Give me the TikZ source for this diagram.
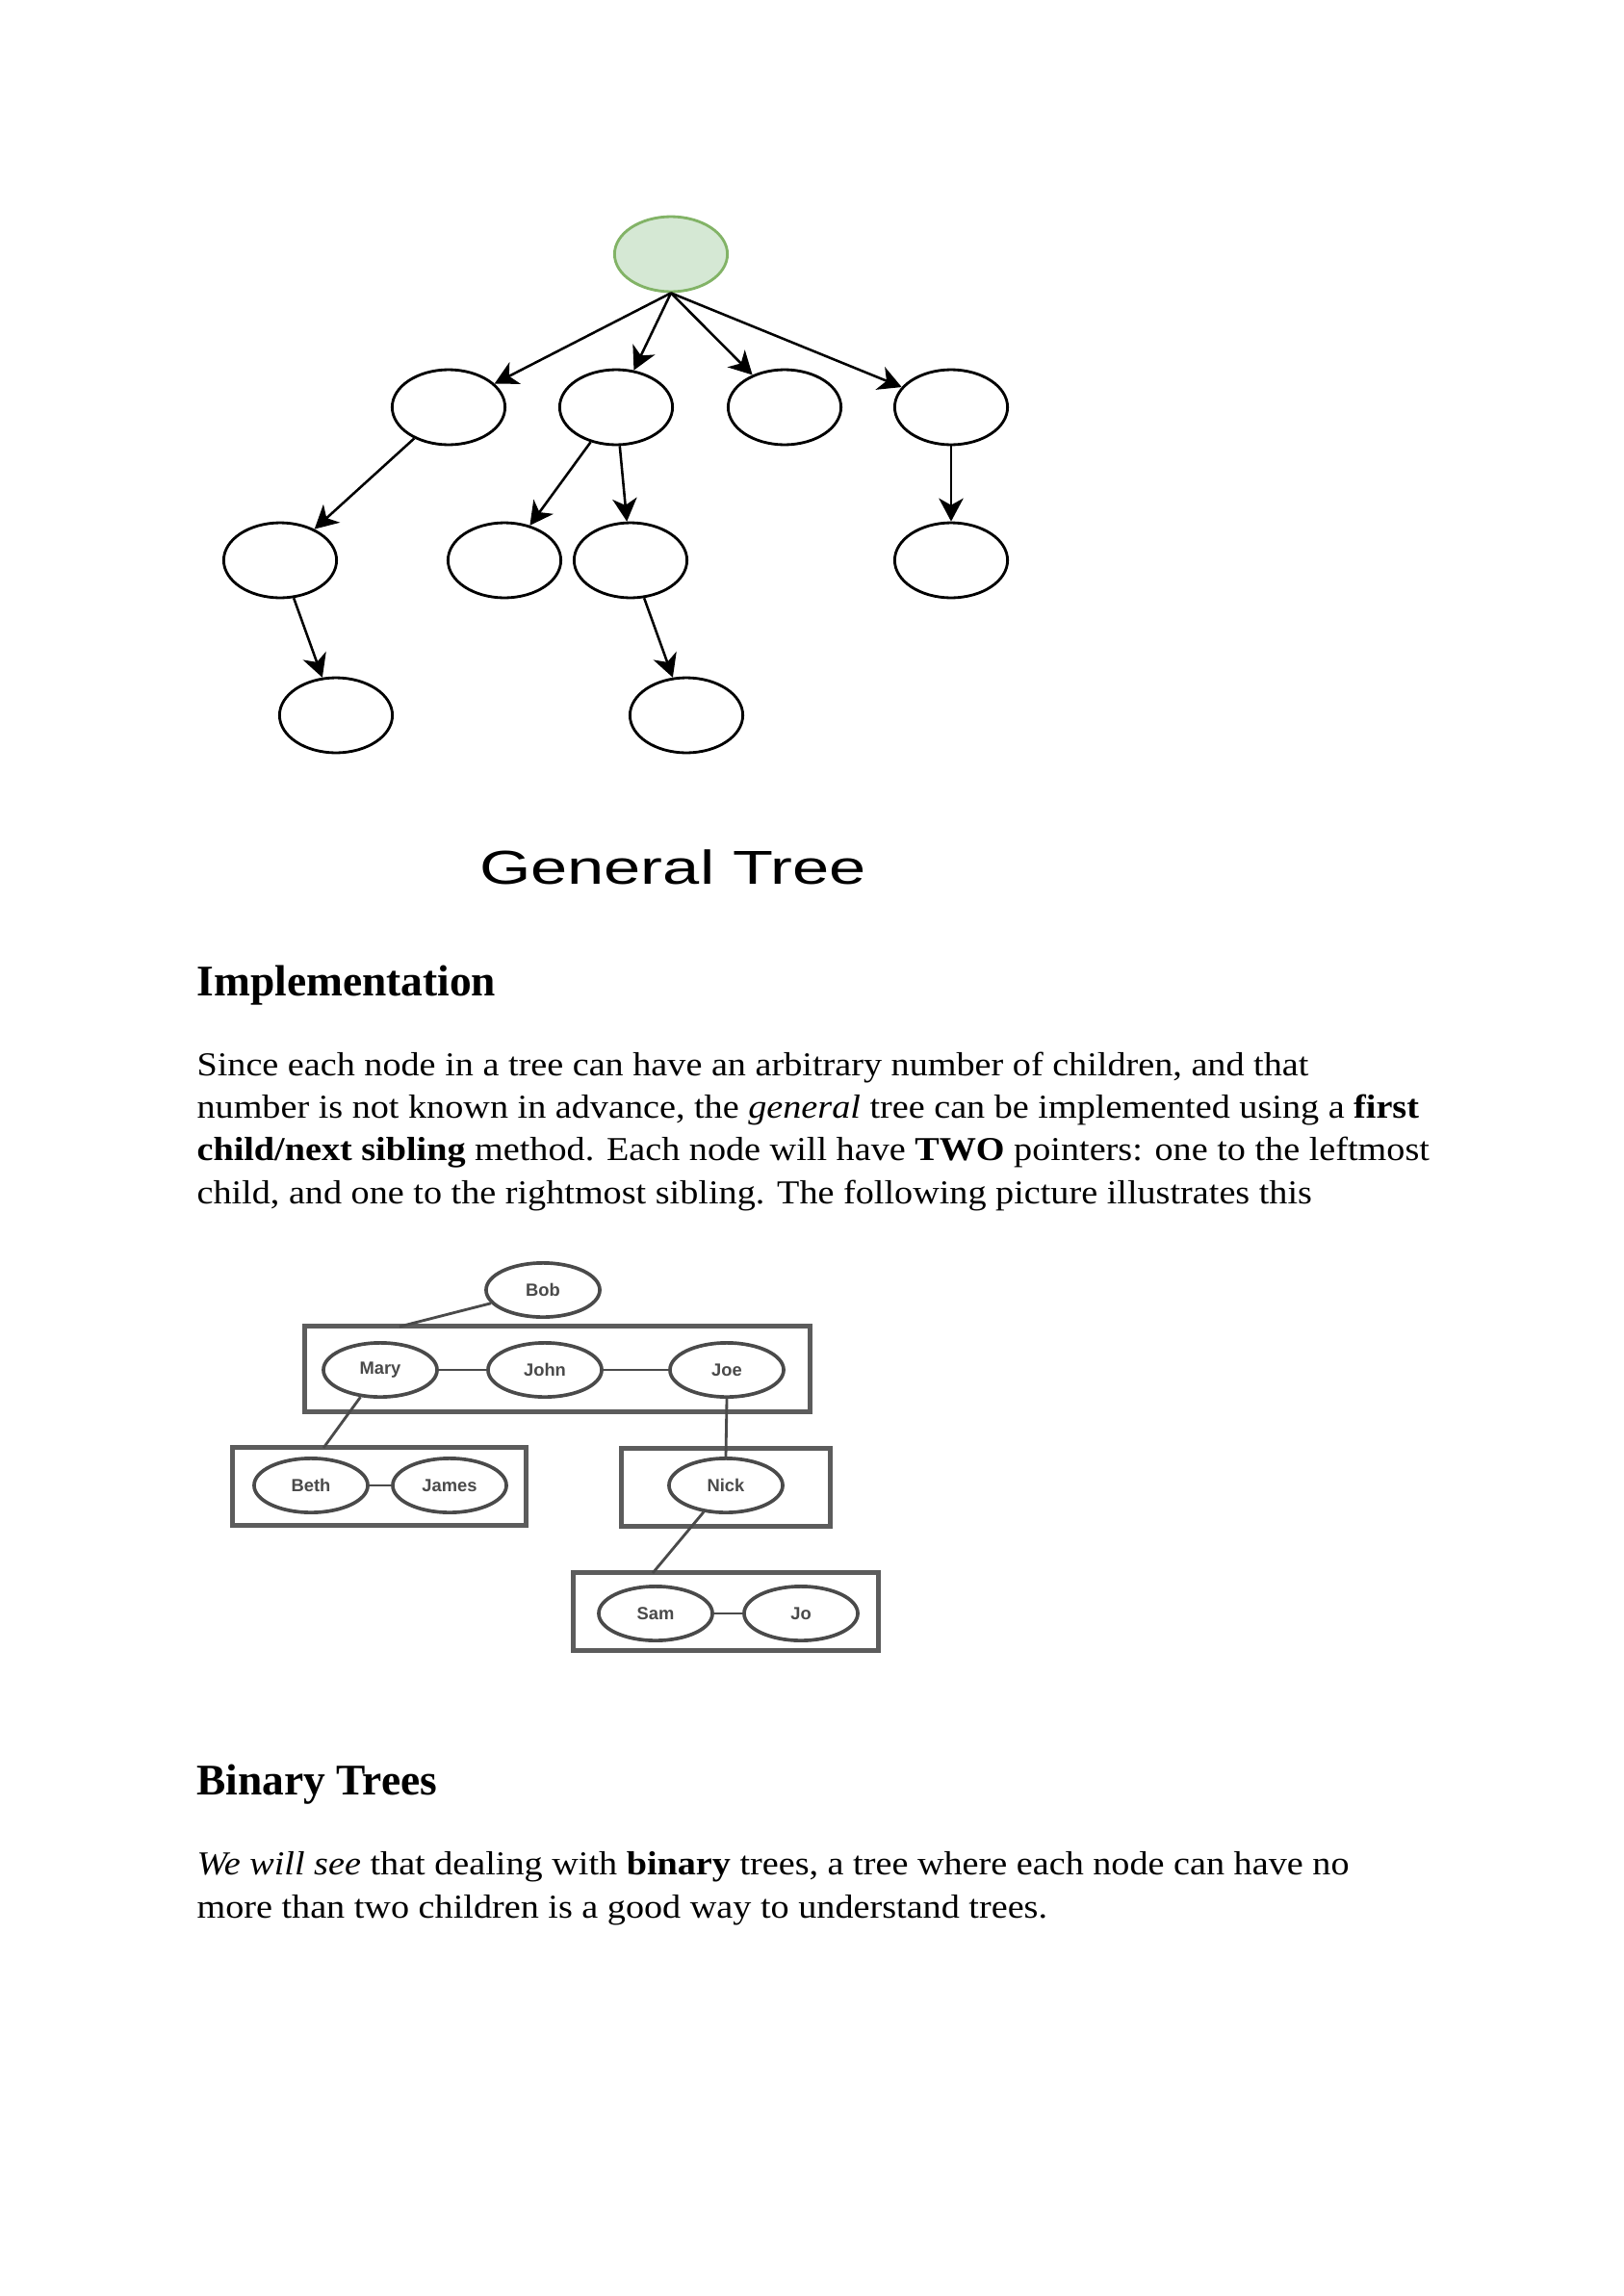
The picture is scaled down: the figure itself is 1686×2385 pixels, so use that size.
\documentclass[tikz,border=0pt]{standalone}
\usepackage{fontspec}
\setmainfont{Liberation Serif}
\setsansfont{Liberation Sans}
\newfontfamily\bodyfont{Liberation Serif}[FakeStretch=1.1]
\newfontfamily\capfont{Liberation Sans}[FakeStretch=1.39]
\usepackage{tikz}
\usetikzlibrary{arrows.meta, positioning, shapes.geometric}
\definecolor{LeafGreen}{HTML}{D5E8D4}
\definecolor{RimGreen}{HTML}{82B366}
\definecolor{BoxGray}{HTML}{5C5C5C}
\definecolor{LinkGray}{HTML}{4A4A4A}

\begin{document}
\begin{tikzpicture}[x=0.0124555cm, y=-0.0124555cm,
    tnode/.style={ellipse, draw=black, line width=1pt, minimum width=1.46cm, minimum height=0.97cm, inner sep=0pt},
    troot/.style={tnode, fill=LeafGreen, draw=RimGreen},
    tarrow/.style={-{Stealth[length=8.5pt, width=9pt, inset=2.5pt]}, line width=0.9pt},
    pnode/.style={ellipse, draw=LinkGray, line width=1.3pt, minimum width=1.47cm, minimum height=0.70cm, inner sep=0pt,
        font=\sffamily\bfseries\fontsize{6.5}{7}\selectfont, text=LinkGray},
    sibbox/.style={draw=BoxGray, line width=1.7pt, inner sep=0pt},
    link/.style={draw=LinkGray, line width=1pt},
    heading/.style={font=\bfseries\fontsize{16.1}{19}\selectfont, anchor=base west, inner sep=0pt},
    body/.style={font=\bodyfont\fontsize{12.3}{15.7}\selectfont, anchor=base west, align=left, inner sep=0pt},
    caption/.style={font=\capfont\fontsize{17.5}{21}\selectfont, anchor=base, inner sep=0pt}
]
\path[fill=white] (0,0) rectangle (1686,2385);

% === General tree ===
\node[troot] (root) at (697,264) {};

% Level 1
\node[tnode] (a1) at (466,423) {};
\node[tnode] (a2) at (640,423) {};
\node[tnode] (a3) at (815,423) {};
\node[tnode] (a4) at (988,423) {};

% Level 2
\node[tnode] (b1) at (291,582) {};
\node[tnode] (b2) at (524,582) {};
\node[tnode] (b3) at (655,582) {};
\node[tnode] (b4) at (988,582) {};

% Level 3
\node[tnode] (c1) at (349,743) {};
\node[tnode] (c2) at (713,743) {};

\draw[tarrow] (root.south) -- (a1);
\draw[tarrow] (root.south) -- (a2);
\draw[tarrow] (root.south) -- (a3);
\draw[tarrow] (root.south) -- (a4);
\draw[tarrow] (a1) -- (b1);
\draw[tarrow] (a2) -- (b2);
\draw[tarrow] (a2) -- (b3);
\draw[tarrow] (a4) -- (b4);
\draw[tarrow] (b1) -- (c1);
\draw[tarrow] (b3) -- (c2);

\node[caption] (gtcap) at (699,918) {General Tree};

% === Implementation ===
\node[heading] (implhead) at (204,1034) {Implementation};
\node[body] (impltext) at (204,1250) {Since each node in a tree can have an arbitrary number of children, and that\\
number is not known in advance, the \textit{general} tree can be implemented using a \textbf{first}\\
\textbf{child/next sibling} method. Each node will have \textbf{TWO} pointers: one to the leftmost\\
child, and one to the rightmost sibling. The following picture illustrates this};

% === First child / next sibling ===
\node[sibbox, minimum width=6.53cm, minimum height=1.11cm] (row1) at (579,1422) {};
\node[sibbox, minimum width=3.80cm, minimum height=1.01cm] (row2) at (394,1544) {};
\node[sibbox, minimum width=2.70cm, minimum height=1.00cm] (row3) at (754,1545) {};
\node[sibbox, minimum width=3.95cm, minimum height=1.01cm] (row4) at (754,1674) {};

\node[pnode] (bob) at (564,1340) {Bob};
\node[pnode] (mary) at (395,1423) {Mary};
\node[pnode] (john) at (566,1423) {John};
\node[pnode] (joe) at (755,1423) {Joe};
\node[pnode] (beth) at (323,1543) {Beth};
\node[pnode] (james) at (467,1543) {James};
\node[pnode] (nick) at (754,1543) {Nick};
\node[pnode] (sam) at (681,1676) {Sam};
\node[pnode] (jo) at (832,1676) {Jo};

\coordinate (row1in) at (415,1378);
\coordinate (row2in) at (336,1504);
\coordinate (row4in) at (678,1634);

\draw[link] (bob) -- (row1in);
\draw[link] (mary) -- (john);
\draw[link] (john) -- (joe);
\draw[link] (mary) -- (row2in);
\draw[link] (beth) -- (james);
\draw[link] (joe.south) -- (nick.north);
\draw[link] (nick) -- (row4in);
\draw[link] (sam) -- (jo);

% === Binary Trees ===
\node[heading] (binhead) at (204,1864) {Binary Trees};
\node[body] (bintext) at (204,1992) {\textit{We will see} that dealing with \textbf{binary} trees, a tree where each node can have no\\
more than two children is a good way to understand trees.};
\end{tikzpicture}
\end{document}
